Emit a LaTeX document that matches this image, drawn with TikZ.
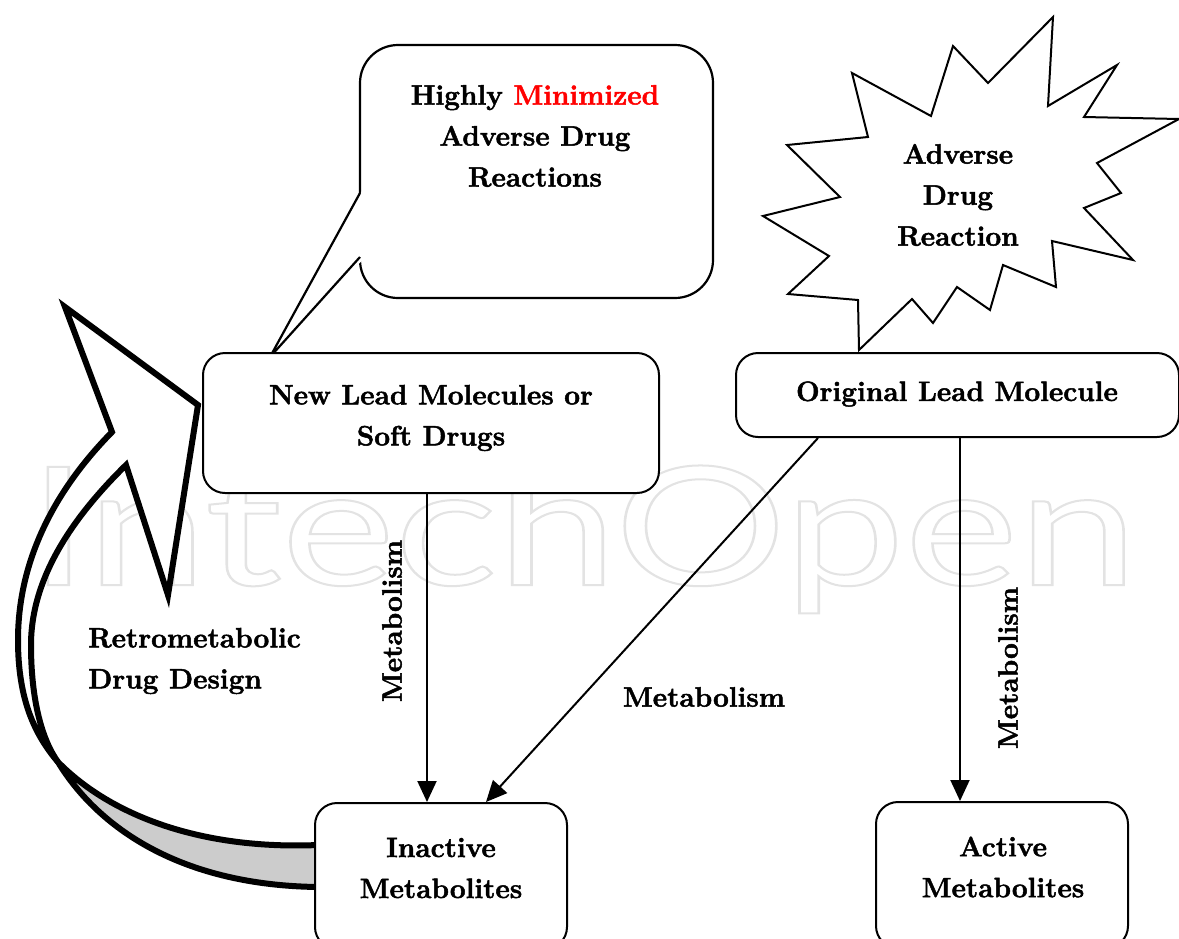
\documentclass[tikz,border=0pt]{standalone}
\usepackage{fontspec}
\usetikzlibrary{arrows.meta}
\newfontfamily\wmfont{Lato}
\newcommand\lblfont{\fontsize{28}{41}\selectfont\bfseries}
\begin{document}
\begin{tikzpicture}[x=1pt,y=-1pt,
  box/.style={draw, line width=2pt, rounded corners=22pt, fill=white, inner sep=0pt},
  lbl/.style={font=\lblfont, align=center, inner sep=0pt,
    execute at begin node={\special{pdf:literal direct 2 Tr 0.5 w}},
    execute at end node={\special{pdf:literal direct 0 Tr}}},
  arr/.style={line width=2pt, -{Triangle[length=21pt,width=19pt]}},
  rib/.style={line width=6pt, line join=miter, miter limit=10},
  thin/.style={line width=2pt, line join=miter}
]
\useasboundingbox (0,0) rectangle (1179,938);
\clip (0,0) rectangle (1179,938);

% watermark
\node[text=black!11, anchor=base west, xscale=1.3, inner sep=0pt] (wm) at (28,585)
  {\wmfont\fontsize{165}{165}\selectfont\special{pdf:literal direct 1 Tr 2 w}IntechOpen\special{pdf:literal direct 0 Tr}};

% curved block arrow: back (grey) part
\filldraw[rib, fill=black!20]
  (58,762) .. controls (110,815) and (200,850) .. (318,845)
  -- (318,887)
  .. controls (165,885) and (90,815) .. (58,762) -- cycle;
% front (white) part with head
\filldraw[rib, fill=white] (112,432) -- (65,307) -- (198,405) -- (168,595) -- (126,465)
  .. controls (70,520) and (31,580) .. (31,645)
  .. controls (31,700) and (42,740) .. (58,762)
  .. controls (35,735) and (18,700) .. (18,640)
  .. controls (18,560) and (55,490) .. (112,432) -- cycle;

% speech bubble
\draw[line width=2.2pt, fill=white, rounded corners=38pt] (360,45) rectangle (713,298);
\fill[white] (362.5,190) -- (270,357) -- (362.5,260) -- cycle;
\draw[line width=2.2pt, line join=miter] (360,193) -- (270,357) -- (360,257);

% explosion star
\draw[thin, fill=white] (859,350) -- (858,300) -- (788,294) -- (829,256) -- (763,216) -- (840,197)
  -- (787,145) -- (868,137) -- (852,73) -- (931,116) -- (953,46) -- (988,83) -- (1053,17)
  -- (1048,106) -- (1117,65) -- (1084,117) -- (1179,119) -- (1097,163) -- (1121,193)
  -- (1084,208) -- (1133,260) -- (1052,241) -- (1056,287) -- (1003,265) -- (990,310)
  -- (957,287) -- (933,323) -- (912,299) -- cycle;

% boxes
\node[box, minimum width=456pt, minimum height=140pt] (newlead) at (431,423) {};
\node[box, minimum width=443pt, minimum height=84pt] (orig) at (957.5,395) {};
\node[box, minimum width=252pt, minimum height=146pt] (inactive) at (441,876) {};
\node[box, minimum width=252pt, minimum height=146pt] (active) at (1002,875) {};

% texts
\node[lbl] (bubbletxt) at (535,136) {Highly \textcolor{red}{Minimized}\\Adverse Drug\\Reactions};
\node[lbl] (startxt) at (958,195) {Adverse\\Drug\\Reaction};
\node[lbl] (newleadtxt) at (431,418) {New Lead Molecules or\\Soft Drugs};
\node[lbl] (origtxt) at (957,394) {Original Lead Molecule};
\node[lbl] (inactivetxt) at (441,868) {Inactive\\Metabolites};
\node[lbl] (activetxt) at (1003,867) {Active\\Metabolites};
\node[lbl, anchor=west, align=left] (retro) at (88,661) {Retrometabolic\\Drug Design};

% connectors
\draw[arr] ([xshift=-4pt]newlead.south) -- ([xshift=-4pt]newlead.south |- inactive.north);
\draw[arr] ([xshift=-139.5pt]orig.south) -- ([xshift=45pt]inactive.north);
\draw[arr] ([xshift=2.5pt]orig.south) -- ([xshift=2.5pt]orig.south |- active.north);

\node[lbl, rotate=90] (met1) at (392,621) {Metabolism};
\node[lbl] (met2) at (704,697) {Metabolism};
\node[lbl, rotate=90] (met3) at (1008,668) {Metabolism};
\end{tikzpicture}
\end{document}
